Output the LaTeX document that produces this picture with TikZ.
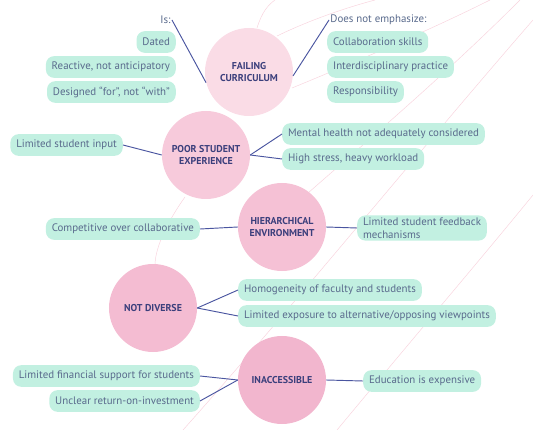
\documentclass[tikz,border=0pt]{standalone}
\usepackage{fontspec}
\setmainfont{PT Sans}
\definecolor{hubtext}{HTML}{3B3F7C}
\definecolor{leaftext}{HTML}{596A8C}
\definecolor{leafbg}{HTML}{C2F0E1}
\definecolor{navy}{HTML}{4A55A0}
\definecolor{bgline}{HTML}{F8D3DD}
\definecolor{pinka}{HTML}{FADCE6}
\definecolor{pinkb}{HTML}{F7CADB}
\definecolor{pinkc}{HTML}{F5C1D5}
\definecolor{pinkd}{HTML}{F4BCD2}
\definecolor{pinke}{HTML}{F2B6CE}
\begin{document}
\begin{tikzpicture}[x=0.03cm,y=-0.03cm,
hub/.style = {circle,minimum size=2.64cm,inner sep=0pt,align=center,text=hubtext,font=\bfseries\fontsize{8.5}{10.5}\selectfont},
leaf/.style = {fill=leafbg,rounded corners=7pt,minimum height=18.5pt,inner xsep=5pt,inner ysep=2pt,text=leaftext,font=\fontsize{9.3}{10.8}\selectfont},
note/.style = {inner sep=1pt,text=leaftext,font=\fontsize{9.3}{10.8}\selectfont},
lnk/.style = {draw,line width=0.8pt,navy},
bg/.style = {draw,line width=0.4pt,bgline}
]
  \useasboundingbox (0,0) rectangle (533,430);

  % faint background curves
  \path[bg] (257,28) .. controls (262,12) and (268,5) .. (275,0);
  \path[bg] (277,36) .. controls (310,20) and (345,8) .. (375,0);
  \path[bg] (292,88) .. controls (360,60) and (430,30) .. (490,0);
  \path[bg] (300,200) .. controls (380,130) and (450,70) .. (520,0);
  \path[bg] (183,430) .. controls (290,310) and (420,150) .. (533,20);
  \path[bg] (337,430) .. controls (420,330) and (480,260) .. (533,195);
  \path[bg] (185,197) .. controls (165,225) and (155,250) .. (155,265);

  \node[hub,fill=pinka] (fc) at (249,72) {FAILING\\CURRICULUM};
  \node[hub,fill=pinkb] (ps) at (206,155) {POOR STUDENT\\EXPERIENCE};
  \node[hub,fill=pinkc] (he) at (282,227) {HIERARCHICAL\\ENVIRONMENT};
  \node[hub,fill=pinkd] (nd) at (153,308) {NOT DIVERSE};
  \node[hub,fill=pinke] (ia) at (282,380) {INACCESSIBLE};

  \node[note,anchor=east] (is) at (172,20) {Is:};
  \node[leaf,anchor=east] (dat) at (176,42) {Dated};
  \node[leaf,anchor=east] (rea) at (176,67) {Reactive, not anticipatory};
  \node[leaf,anchor=east] (des) at (176,92) {Designed ``for'', not ``with''};

  \node[note,anchor=west] (dne) at (329,20) {Does not emphasize:};
  \node[leaf,anchor=west] (col) at (327,42) {Collaboration skills};
  \node[leaf,anchor=west] (int) at (327,67) {Interdisciplinary practice};
  \node[leaf,anchor=west] (res) at (327,92) {Responsibility};

  \node[leaf,anchor=east] (lsi) at (123,145) {Limited student input};
  \node[leaf,anchor=west] (mh) at (282,134) {Mental health not adequately considered};
  \node[leaf,anchor=west] (hs) at (282,159) {High stress, heavy workload};

  \node[leaf,anchor=east] (cmp) at (200,229) {Competitive over collaborative};
  \node[leaf,anchor=west,align=left] (fb) at (357,228) {Limited student feedback\\mechanisms};

  \node[leaf,anchor=west] (hom) at (238,290) {Homogeneity of faculty and students};
  \node[leaf,anchor=west] (exp) at (238,316) {Limited exposure to alternative/opposing viewpoints};

  \node[leaf,anchor=east] (fin) at (200,376) {Limited financial support for students};
  \node[leaf,anchor=east] (roi) at (200,401) {Unclear return-on-investment};
  \node[leaf,anchor=west] (edu) at (363,381) {Education is expensive};

  \path[lnk] (is.east) -- (fc.194);
  \path[lnk] (dne.west) -- (fc.-5);
  \path[lnk] (lsi.east) -- (ps.west);
  \path[lnk] (ps.east) -- (mh.west);
  \path[lnk] (ps.east) -- (hs.west);
  \path[lnk] (cmp.east) -- (he.west);
  \path[lnk] (he.east) -- (fb.west);
  \path[lnk] (nd.east) -- (hom.west);
  \path[lnk] (nd.east) -- (exp.west);
  \path[lnk] (ia.west) -- (fin.east);
  \path[lnk] (ia.west) -- (roi.east);
  \path[lnk] (ia.east) -- (edu.west);

\end{tikzpicture}
\end{document}
